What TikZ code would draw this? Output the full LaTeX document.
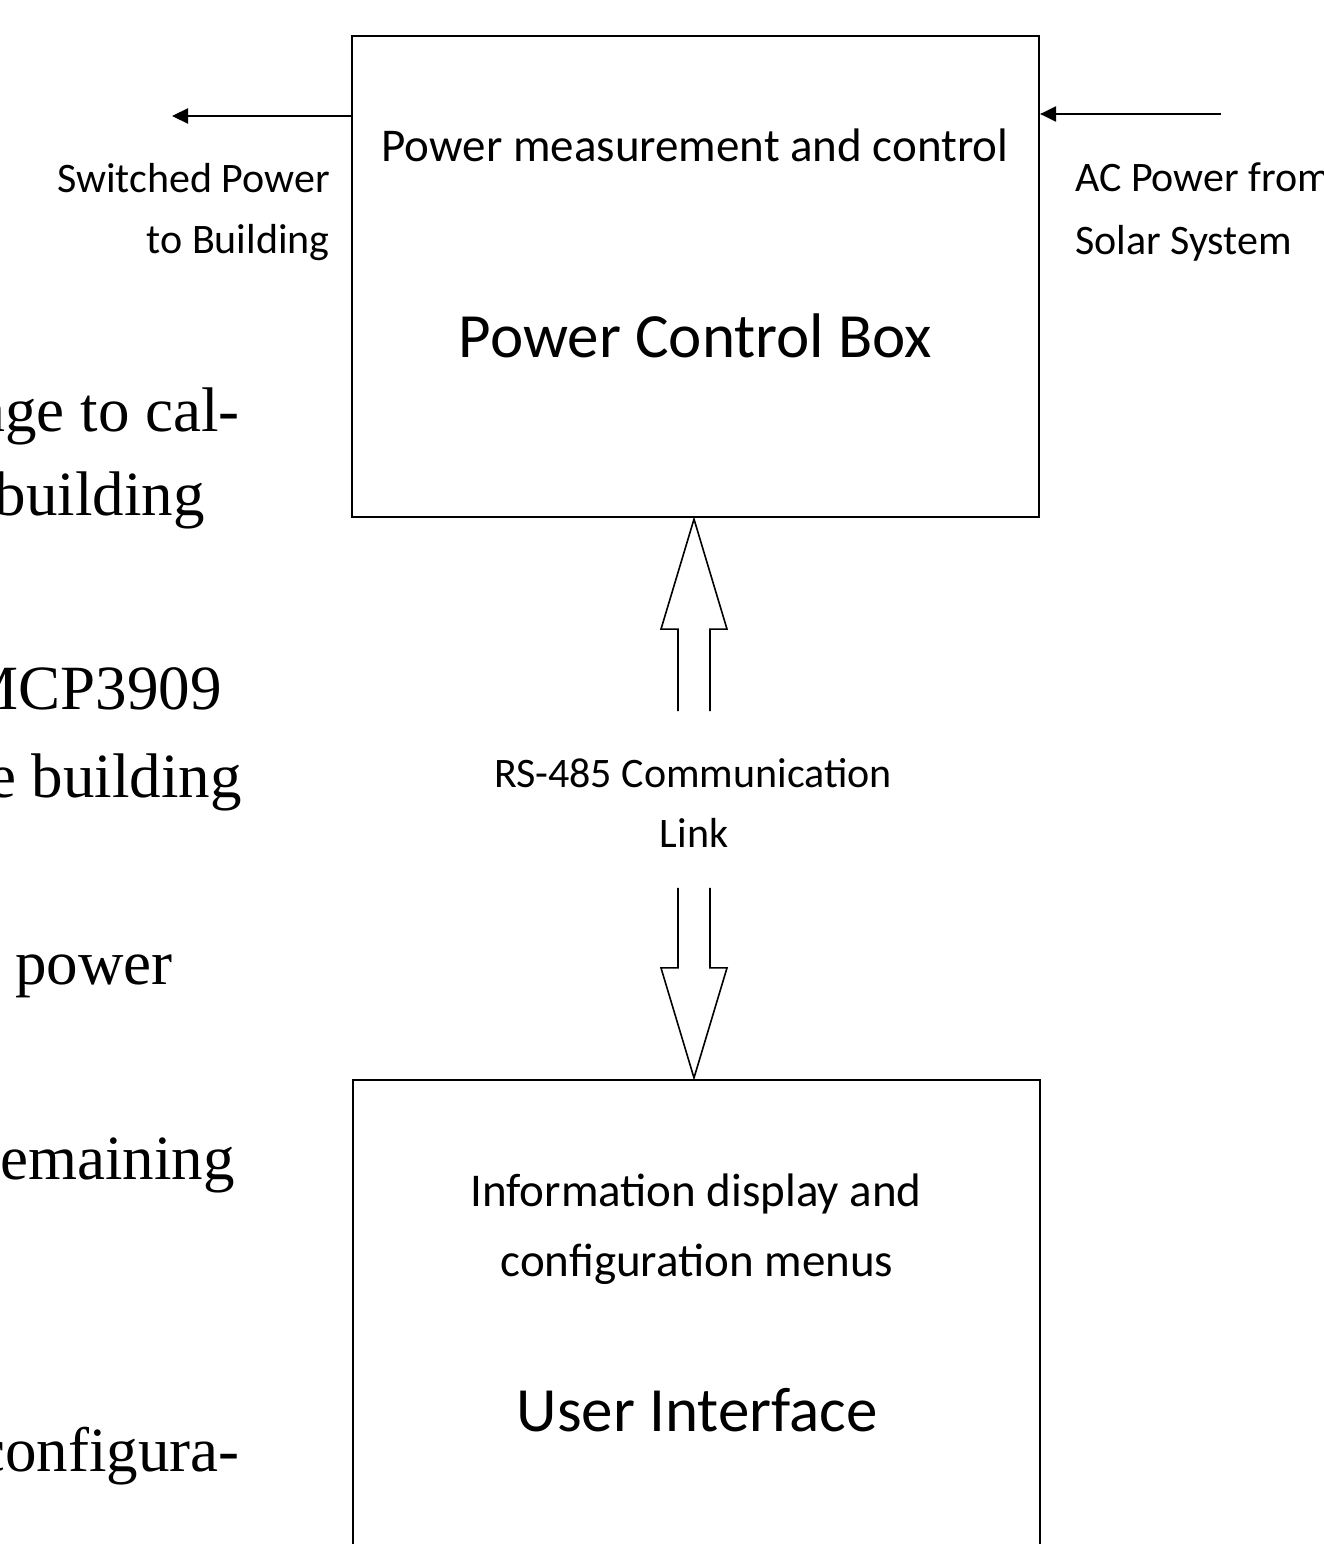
\documentclass[tikz,border=0pt]{standalone}
\usepackage{fontspec}
\setmainfont{Carlito}
\newfontfamily\bodyserif{Liberation Serif}
\usetikzlibrary{arrows.meta,calc}

\begin{document}
\begin{tikzpicture}[x=1pt,y=-1pt,
  blockbox/.style={draw=black,line width=2.2pt,fill=none,inner sep=0pt},
  lblsmall/.style={inner sep=0pt,font=\fontsize{42}{42}\selectfont},
  lblmid/.style={inner sep=0pt,font=\fontsize{47}{47}\selectfont},
  lblbig/.style={inner sep=0pt,font=\fontsize{63}{63}\selectfont},
  bodytxt/.style={inner sep=0pt,anchor=base east,font=\bodyserif\fontsize{63}{63}\selectfont},
  powerline/.style={line width=2.2pt,-{Triangle[length=16pt,width=15pt]}},
  hollowarrow/.style={line width=1.6pt,line join=miter}]

\useasboundingbox (0,0) rectangle (1324,1544);
\clip (0,0) rectangle (1324,1544);

% running text of the surrounding page
\node[bodytxt] (t1) at (240,431) {voltage to cal-};
\node[bodytxt] (t2) at (205,515) {the building};
\node[bodytxt] (t3) at (222,709) {MCP3909};
\node[bodytxt] (t4) at (242,797) {the building};
\node[bodytxt] (t5) at (173,984) {total power};
\node[bodytxt] (t6) at (235,1179) {remaining};
\node[bodytxt] (t7) at (240,1471) {configura-};

% blocks
\node[blockbox,minimum width=687pt,minimum height=481pt] (pcb) at (695.5,276.5) {};
\node[blockbox,minimum width=687pt,minimum height=620pt] (ui) at (696.5,1390) {};

% block texts
\node[lblmid,anchor=base] (pcbsub) at (695,161) {Power measurement and control};
\node[lblbig,anchor=base] (pcbname) at (695.5,357) {Power Control Box};
\node[lblmid,anchor=base] (uisub1) at (696,1206) {Information display and};
\node[lblmid,anchor=base] (uisub2) at (697,1276) {configuration menus};
\node[lblbig,anchor=base] (uiname) at (697,1431) {User Interface};

% power connections
\coordinate (outL) at (172,116);
\coordinate (inR) at (1221,114);
\draw[powerline] (pcb.west |- outL) -- (outL);
\draw[powerline] (inR) -- (inR -| pcb.east);
\node[lblsmall,anchor=base east] (outlbl1) at (330,192) {Switched Power};
\node[lblsmall,anchor=base east] (outlbl2) at (330,253) {to Building};
\node[lblsmall,anchor=base west] (inlbl1) at (1075,191) {AC Power from};
\node[lblsmall,anchor=base west] (inlbl2) at (1075,254) {Solar System};

% RS-485 link: two hollow block arrows
\coordinate (upTip) at ($(pcb.south)+(-1.5,1)$);
\coordinate (downTip) at ($(ui.north)+(-2.5,-1)$);
\draw[hollowarrow] ($(upTip)+(-16,192)$) -- ++(0,-82) -- ++(-17,0) -- (upTip)
  -- ($(upTip)+(33,110)$) -- ++(-17,0) -- ++(0,82);
\draw[hollowarrow] ($(downTip)+(-16,-190)$) -- ++(0,80) -- ++(-17,0) -- (downTip)
  -- ($(downTip)+(33,-110)$) -- ++(-17,0) -- ++(0,-80);
\node[lblsmall,anchor=base] (linklbl1) at (693,787) {RS-485 Communication};
\node[lblsmall,anchor=base] (linklbl2) at (694,847) {Link};

\end{tikzpicture}
\end{document}
